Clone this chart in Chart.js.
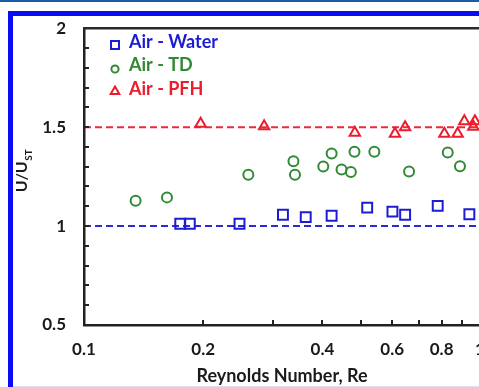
<!DOCTYPE html>
<html><head><meta charset="utf-8">
<script src="https://cdn.jsdelivr.net/npm/chart.js@4.4.1/dist/chart.umd.min.js"></script>
<style>
html,body{margin:0;padding:0;width:479px;height:387px;overflow:hidden;background:#fff;}
#topband{position:absolute;left:0;top:0;width:479px;height:2px;background:#1a5aa8;}
#frame{position:absolute;left:8px;top:11px;width:600px;height:400px;border-left:5px solid #0a0af5;border-top:5px solid #0a0af5;}
#bottomline{position:absolute;left:13px;top:386px;width:470px;height:1px;background:#e0e0f4;}
#wrap{position:absolute;left:0;top:0;width:520px;height:387px;}
</style></head><body>
<div id="topband"></div><div id="frame"></div><div id="bottomline"></div>
<div id="wrap"><canvas id="c" width="520" height="387"></canvas></div>
<script>
// ---- data ----
const waterRe = [0.175, 0.185, 0.247, 0.318, 0.363, 0.422, 0.519, 0.601, 0.647, 0.782, 0.940];
const waterU  = [1.012, 1.012, 1.012, 1.057, 1.045, 1.052, 1.093, 1.073, 1.057, 1.102, 1.060];
const tdRe = [0.135, 0.162, 0.260, 0.338, 0.341, 0.402, 0.422, 0.447, 0.472, 0.482, 0.541, 0.662, 0.829, 0.890];
const tdU  = [1.128, 1.145, 1.259, 1.327, 1.259, 1.301, 1.367, 1.286, 1.273, 1.376, 1.376, 1.276, 1.372, 1.302];
const pfhRe = [0.197, 0.285, 0.483, 0.610, 0.647, 0.813, 0.878, 0.913, 0.962, 0.971];
const pfhU  = [1.517, 1.505, 1.472, 1.467, 1.500, 1.467, 1.467, 1.530, 1.502, 1.530];
const fitRe = [0.1, 1];
const waterFit = [1.0, 1.0];
const pfhFit = [1.5, 1.5];
const seriesNames = ['Air - Water', 'Air - TD', 'Air - PFH'];
const xTickValues = [0.1, 0.2, 0.3, 0.4, 0.5, 0.6, 0.7, 0.8, 0.9, 1];
const xTickLabels = [0.1, 0.2, 0.4, 0.6, 0.8, 1];
const yTickLabels = [0.5, 1, 1.5, 2];
const xTitle = 'Reynolds Number, Re';

const BLUE = '#1c1cd2', GREEN = '#2f8a33', RED = '#ec1c2c';
const FONT = 'Lato';

function pts(xs, ys){ return xs.map((v,i)=>({x:v, y:ys[i]})); }

const deco = {
  id:'deco',
  afterDraw(chart){
    const {ctx, chartArea:a, scales:{x, y}} = chart;
    ctx.save();
    // inward tick marks
    ctx.strokeStyle = '#222'; ctx.lineWidth = 2;
    ctx.beginPath();
    x.ticks.forEach(t=>{ if (t.value<=0.1001 || t.value>=0.999) return; const px = Math.round(x.getPixelForValue(t.value)); ctx.moveTo(px, a.bottom); ctx.lineTo(px, a.bottom-5); });
    y.ticks.forEach(t=>{ if (t.value<=0.5001 || t.value>=1.999) return; const py = Math.round(y.getPixelForValue(t.value)); ctx.moveTo(a.left, py); ctx.lineTo(a.left+5, py); });
    ctx.stroke();
    // top frame line
    ctx.strokeStyle = '#2a2a2a'; ctx.lineWidth = 2.5;
    ctx.beginPath(); ctx.moveTo(a.left-1, a.top); ctx.lineTo(a.right+40, a.top); ctx.stroke();
    // y title with subscript
    ctx.translate(27, 171); ctx.rotate(-Math.PI/2);
    ctx.fillStyle = '#1a1a1a'; ctx.textBaseline = 'alphabetic';
    ctx.font = 'bold 16px ' + FONT; const w1 = ctx.measureText('U/U').width;
    ctx.font = 'bold 10px ' + FONT; const w2 = ctx.measureText('ST').width;
    const s = -(w1+w2)/2;
    ctx.font = 'bold 16px ' + FONT; ctx.fillText('U/U', s, 0);
    ctx.font = 'bold 10px ' + FONT; ctx.fillText('ST', s+w1+0.5, 5);
    ctx.restore();
    // legend
    ctx.save();
    ctx.lineWidth = 2;
    const lx = 115;
    const rows = [42, 65.5, 89];
    const cols = [BLUE, GREEN, RED];
    ctx.strokeStyle = BLUE; ctx.strokeRect(lx-4, 41, 8, 8);
    ctx.strokeStyle = GREEN; ctx.beginPath(); ctx.arc(lx, 69, 3.6, 0, Math.PI*2); ctx.stroke();
    ctx.strokeStyle = RED; ctx.beginPath(); ctx.moveTo(lx, 86.5); ctx.lineTo(lx+4.3, 94); ctx.lineTo(lx-4.3, 94); ctx.closePath(); ctx.stroke();
    ctx.font = 'bold 18px ' + FONT; ctx.textBaseline = 'middle'; ctx.textAlign = 'left';
    seriesNames.forEach((n,i)=>{ ctx.fillStyle = cols[i]; ctx.fillText(n, 129, rows[i]); });
    ctx.restore();
  }
};

new Chart(document.getElementById('c'), {
  type: 'scatter',
  data: {
    datasets: [
      { label: seriesNames[0], data: pts(waterRe, waterU), pointStyle: 'rect', pointRadius: 7, pointBorderWidth: 2,
        pointBorderColor: BLUE, pointBackgroundColor: 'rgba(0,0,0,0)', order: 1 },
      { label: seriesNames[1], data: pts(tdRe, tdU), pointStyle: 'circle', pointRadius: 5, pointBorderWidth: 2,
        pointBorderColor: GREEN, pointBackgroundColor: 'rgba(0,0,0,0)', order: 2 },
      { label: seriesNames[2], data: pts(pfhRe, pfhU), pointStyle: 'triangle', pointRadius: 6, pointBorderWidth: 2,
        pointBorderColor: RED, pointBackgroundColor: 'rgba(0,0,0,0)', order: 3 },
      { label: 'fit water', data: pts(fitRe, waterFit), showLine: true, borderColor: '#2b2bd6', borderWidth: 2,
        borderDash: [7,4], pointRadius: 0, order: 10 },
      { label: 'fit pfh', data: pts(fitRe, pfhFit), showLine: true, borderColor: '#ec2a3a', borderWidth: 2,
        borderDash: [7,4], pointRadius: 0, order: 10 }
    ]
  },
  options: {
    responsive: false, animation: false, devicePixelRatio: 1,
    layout: { padding: { left: 0, top: 24, right: 40, bottom: 0 } },
    plugins: { legend: { display: false }, tooltip: { enabled: false } },
    scales: {
      x: {
        type: 'logarithmic', min: 0.1, max: 1,
        afterBuildTicks: s => { s.ticks = xTickValues.map(v => ({ value: v })); },
        afterFit: s => { s.height = 62; },
        grid: { display: false, drawTicks: false },
        border: { display: true, color: '#222', width: 2.5 },
        ticks: { autoSkip: false, maxRotation: 0, padding: 14, color: '#1a1a1a',
          font: { family: FONT, weight: 'bold', size: 17 },
          callback: v => xTickLabels.some(l => Math.abs(l - v) < 1e-6) ? String(v) : '' },
        title: { display: true, text: xTitle, color: '#1a1a1a', font: { family: FONT, weight: 'bold', size: 18 },
          padding: { top: 0, bottom: 0 } }
      },
      y: {
        type: 'linear', min: 0.5, max: 2,
        afterFit: s => { s.width = 84; },
        grid: { display: false, drawTicks: false },
        border: { display: true, color: '#222', width: 2.5 },
        ticks: { stepSize: 0.1, autoSkip: false, padding: 18, color: '#1a1a1a',
          font: { family: FONT, weight: 'bold', size: 17 },
          callback: v => { const l = yTickLabels.find(l => Math.abs(l - v) < 1e-6); return l === undefined ? '' : String(l); } }
      }
    }
  },
  plugins: [deco]
});
</script>
</body></html>
